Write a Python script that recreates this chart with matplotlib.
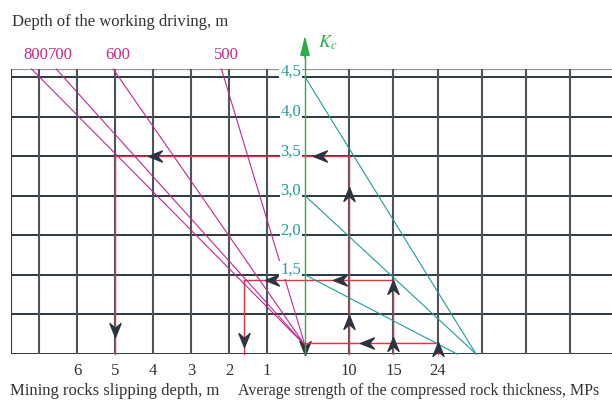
import numpy as np
import matplotlib
matplotlib.use('Agg')
import matplotlib.pyplot as plt
from matplotlib.path import Path

plt.rcParams['font.family'] = ['Liberation Serif', 'DejaVu Serif']
plt.rcParams['mathtext.fontset'] = 'stix'

# depth of the working driving (m): lines meet the top border at this slip depth
depth_names = ['800', '700', '600', '500']
depth_top = [7.2, 6.55, 5.05, 2.2]
conv_row = 0.22          # all depth lines meet here on the Kc axis

# Kc scale, one label per grid row
kc_labels = ['4,5', '4,0', '3,5', '3,0', '2,0', '1,5']
kc_rows = [7, 6, 5, 4, 3, 2]

# bottom scales
slip_ticks = [6, 5, 4, 3, 2, 1]
strength_labels = ['10', '15', '24']
strength_cols = [1, 2, 3]

# Kc lines on the right: start row on the Kc axis, end column on the bottom
kc_line_rows = [7, 4, 2]
kc_line_ends = [3.87, 3.87, 3.44]

# worked examples (red): Kc row, strength column, slip depth
ex_rows = [5, 1.88, 0.28]
ex_cols = [1, 2, 3]
ex_slip = [5, 1.6, 0]

MAGENTA = '#c4268e'
TEAL = '#1f9c98'
GREEN = '#2aae4a'
RED = '#ea3040'
DARK = '#2b3741'
VGRAY = '#4a545c'
LGRAY = '#8c9296'
ARROW = '#2a3540'
TXT = '#333333'


def chevron(angle):
    v = np.array([[0, 0.5], [0.4, -0.5], [0, -0.15], [-0.4, -0.5], [0, 0.5]])
    a = np.deg2rad(angle)
    r = np.array([[np.cos(a), -np.sin(a)], [np.sin(a), np.cos(a)]])
    return Path(v @ r.T, [Path.MOVETO, Path.LINETO, Path.LINETO, Path.LINETO, Path.CLOSEPOLY])


fig = plt.figure(figsize=(6.12, 4.0), dpi=100)
axL = fig.add_axes([11 / 612, 46 / 400, 294 / 612, 285 / 400])
axR = fig.add_axes([305 / 612, 46 / 400, 307 / 612, 285 / 400])
axL.set_xlim(7.74, 0)
axR.set_xlim(0, 6.946)
for ax in (axL, axR):
    ax.set_ylim(0, 7.2)
    ax.axis('off')
    for r in range(8):
        ax.axhline(r, color=DARK, lw=1.4, zorder=1)
    ax.axhline(7.2, color=LGRAY, lw=1.6, zorder=1)

for d in list(range(1, 8)) + [7.74]:
    axL.plot([d, d], [0, 7.2], color=VGRAY if d != 7.74 else DARK, lw=1.5, zorder=1)
for c in range(1, 7):
    axR.plot([c, c], [0, 7.2], color=VGRAY, lw=1.5, zorder=1)

# depth lines
for name, top in zip(depth_names, depth_top):
    axL.plot([top, 0], [7.2, conv_row], color=MAGENTA, lw=0.8, zorder=3, clip_on=False)
    axL.text(top - 0.12, 7.55, name, color=MAGENTA, fontsize=12, ha='center', va='center')

# Kc lines
for r0, c1 in zip(kc_line_rows, kc_line_ends):
    axR.plot([0, c1], [r0, 0], color=TEAL, lw=0.8, zorder=3, clip_on=False)

# red examples
for r, c, s in zip(ex_rows, ex_cols, ex_slip):
    axR.plot([0, c], [r, r], color=RED, lw=1.0, zorder=2, clip_on=False)
    axR.plot([c, c], [0, r], color=RED, lw=1.0, zorder=2, clip_on=False)
    if s > 0:
        axL.plot([s, 0], [r, r], color=RED, lw=1.0, zorder=2, clip_on=False)
        axL.plot([s, s], [0, r], color=RED, lw=1.0, zorder=2, clip_on=False)

# direction marks
for x, y, ang in [(3.95, 5, 90), (5, 0.6, 180), (0.87, 1.88, 90), (1.6, 0.35, 180), (0, 0.15, 180)]:
    axL.plot(x, y, marker=chevron(ang), ms=10, color=ARROW, zorder=5, clip_on=False)
for x, y, ang in [(0.34, 5, 90), (1, 4.05, 0), (1, 0.8, 0), (0.79, 1.88, 90),
                  (2, 1.7, 0), (1.4, 0.28, 90), (2, 0.25, 0), (3, 0.12, 0)]:
    axR.plot(x, y, marker=chevron(ang), ms=10, color=ARROW, zorder=5, clip_on=False)

# Kc axis
axR.plot([0, 0], [0, 7.6], color=GREEN, lw=1.0, zorder=4, clip_on=False)
axR.annotate('', xy=(0, 8.11), xytext=(0, 7.4), annotation_clip=False,
             arrowprops=dict(arrowstyle='-|>,head_length=1.2,head_width=0.3', color=GREEN, lw=1.0))
axR.text(0.29, 7.86, r'$K_c$', color=GREEN, fontsize=13, ha='left', va='center')
for lab, r in zip(kc_labels, kc_rows):
    axL.text(0.1, r + 0.02, lab, color=TEAL, fontsize=12, ha='right', va='baseline', zorder=6,
             bbox=dict(boxstyle='square,pad=0.05', fc='white', ec='none'))

# bottom scales
for t in slip_ticks:
    axL.text(t, -0.42, str(t), color=TXT, fontsize=12, ha='center', va='center')
for lab, c in zip(strength_labels, strength_cols):
    axR.text(c, -0.42, lab, color=TXT, fontsize=12, ha='center', va='center')

fig.text(12 / 612, 1 - 22 / 400, 'Depth of the working driving, m', color=TXT, fontsize=12, ha='left', va='center')
fig.text(10 / 612, 1 - 383 / 400, 'Mining rocks slipping depth, m', color=TXT, fontsize=12, ha='left', va='top')
fig.text(238 / 612, 1 - 383 / 400, 'Average strength of the compressed rock thickness, MPs', color=TXT,
         fontsize=11.5, ha='left', va='top')

fig.savefig('out.png', dpi=100, facecolor='white')
